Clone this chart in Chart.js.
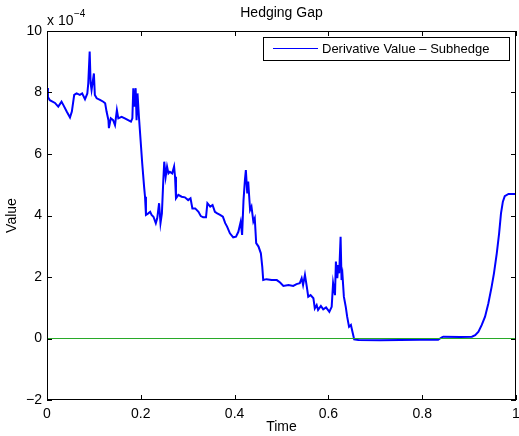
<!DOCTYPE html>
<html lang="en">
<head>
    <meta charset="UTF-8">
    <title>Hedging Gap</title>
    <script src="https://cdn.jsdelivr.net/npm/chart.js"></script>
    <style>
        body {
            margin: 0;
            background-color: white;
        }
        #gapChart {
            display: block;
        }
    </style>
</head>
<body>
    <canvas id="gapChart" width="519" height="436"></canvas>
    <script>
        // values, y in units of 1e-4
        const timePoints = [
            0.000, 0.002, 0.006, 0.017, 0.024, 0.031, 0.035, 0.042, 0.049, 0.053,
            0.058, 0.063, 0.070, 0.075, 0.081, 0.086, 0.088, 0.091, 0.093, 0.095,
            0.100, 0.102, 0.106, 0.113, 0.120, 0.124, 0.127, 0.131, 0.132, 0.136,
            0.141, 0.145, 0.149, 0.152, 0.159, 0.166, 0.173, 0.179, 0.182, 0.184,
            0.186, 0.189, 0.191, 0.193, 0.196, 0.200, 0.203, 0.207, 0.209, 0.211,
            0.216, 0.220, 0.223, 0.227, 0.232, 0.235, 0.239, 0.242, 0.245, 0.248,
            0.250, 0.253, 0.256, 0.259, 0.262, 0.267, 0.271, 0.273, 0.275, 0.280,
            0.287, 0.294, 0.301, 0.306, 0.310, 0.316, 0.323, 0.328, 0.333, 0.339,
            0.342, 0.348, 0.353, 0.358, 0.363, 0.369, 0.375, 0.380, 0.384, 0.390,
            0.397, 0.403, 0.408, 0.413, 0.416, 0.419, 0.422, 0.424, 0.427, 0.429,
            0.433, 0.436, 0.440, 0.443, 0.446, 0.451, 0.456, 0.459, 0.461, 0.468,
            0.479, 0.490, 0.497, 0.504, 0.515, 0.525, 0.532, 0.539, 0.543, 0.546,
            0.550, 0.554, 0.557, 0.562, 0.568, 0.571, 0.575, 0.578, 0.584, 0.589,
            0.595, 0.602, 0.607, 0.610, 0.614, 0.616, 0.619, 0.621, 0.623, 0.626,
            0.628, 0.630, 0.633, 0.637, 0.640, 0.644, 0.648, 0.652, 0.655, 0.664,
            0.710, 0.753, 0.795, 0.834, 0.842, 0.845, 0.881, 0.906, 0.913, 0.920,
            0.927, 0.934, 0.941, 0.948, 0.953, 0.959, 0.964, 0.968, 0.972, 0.976,
            0.984, 1.000
        ];
        const gapValues = [
            8.15, 7.85, 7.75, 7.66, 7.54, 7.70, 7.59, 7.38, 7.19, 7.38,
            7.92, 7.97, 7.92, 7.97, 7.78, 7.97, 8.30, 9.33, 8.30, 8.08,
            8.62, 7.92, 7.81, 7.76, 7.70, 7.65, 7.38, 7.10, 6.84, 7.16,
            7.10, 6.94, 7.43, 7.16, 7.21, 7.16, 7.10, 7.05, 7.16, 8.14,
            7.54, 8.14, 7.10, 7.97, 7.21, 6.35, 5.70, 4.94, 4.61, 4.02,
            4.07, 4.12, 4.02, 3.96, 3.75, 3.91, 4.40, 3.75, 4.07, 5.15,
            5.75, 5.26, 5.59, 5.37, 5.42, 5.37, 5.59, 5.26, 4.56, 4.67,
            4.61, 4.59, 4.50, 4.56, 4.23, 4.23, 4.12, 3.98, 3.94, 3.94,
            4.40, 4.29, 4.34, 4.12, 4.07, 4.02, 3.96, 3.75, 3.64, 3.42,
            3.29, 3.31, 3.47, 3.80, 3.37, 4.50, 5.15, 5.48, 4.72, 5.10,
            4.18, 4.29, 3.80, 3.91, 3.10, 2.99, 2.77, 2.33, 1.90, 1.93,
            1.90, 1.90, 1.82, 1.71, 1.74, 1.71, 1.77, 1.80, 1.96, 1.74,
            2.07, 1.68, 1.36, 1.41, 1.31, 0.98, 1.09, 0.93, 1.06, 0.95,
            1.01, 0.87, 1.03, 1.80, 1.41, 2.50, 1.96, 2.39, 2.12, 3.31,
            1.90, 2.07, 1.36, 1.03, 0.71, 0.38, 0.44, 0.17, -0.03, -0.05,
            -0.06, -0.05, -0.04, -0.04, 0.04, 0.06, 0.05, 0.06, 0.11, 0.22,
            0.44, 0.71, 1.14, 1.68, 2.12, 2.77, 3.42, 4.07, 4.45, 4.63,
            4.70, 4.70
        ];
        const zeroTimes = [0, 1];
        const zeroValues = [0, 0];

        const xTickValues = [0, 0.2, 0.4, 0.6, 0.8, 1];
        const xTickLabels = ['0', '0.2', '0.4', '0.6', '0.8', '1'];
        const yTickValues = [-2, 0, 2, 4, 6, 8, 10];
        const yTickLabels = ['\u22122', '0', '2', '4', '6', '8', '10'];

        const seriesName = 'Derivative Value \u2013 Subhedge';
        const fontFamily = 'Arial, "Liberation Sans", Helvetica, sans-serif';

        const gapPoints = timePoints.map((t, i) => ({ x: t, y: gapValues[i] }));
        const zeroPoints = zeroTimes.map((t, i) => ({ x: t, y: zeroValues[i] }));

        // matlab style box, inward ticks, exponent note, title and legend
        const matlabFrame = {
            id: 'matlabFrame',
            afterDraw(chart) {
                const ctx = chart.ctx;
                const area = chart.chartArea;
                const xs = chart.scales.x;
                const ys = chart.scales.y;
                ctx.save();
                ctx.strokeStyle = '#000';
                ctx.lineWidth = 1;
                ctx.strokeRect(area.left + 0.5, area.top + 0.5, area.right - area.left - 1, area.bottom - area.top - 1);

                ctx.beginPath();
                xTickValues.forEach(v => {
                    const px = Math.round(xs.getPixelForValue(v)) + 0.5;
                    ctx.moveTo(px, area.bottom);
                    ctx.lineTo(px, area.bottom - 5);
                    ctx.moveTo(px, area.top);
                    ctx.lineTo(px, area.top + 5);
                });
                yTickValues.forEach(v => {
                    const py = Math.round(ys.getPixelForValue(v)) + 0.5;
                    ctx.moveTo(area.left, py);
                    ctx.lineTo(area.left + 5, py);
                    ctx.moveTo(area.right, py);
                    ctx.lineTo(area.right - 5, py);
                });
                ctx.stroke();

                ctx.fillStyle = '#000';
                ctx.textBaseline = 'alphabetic';
                ctx.textAlign = 'left';
                ctx.font = '14px ' + fontFamily;
                ctx.fillText('x 10', area.left, 25);
                ctx.font = '10px ' + fontFamily;
                ctx.fillText('\u22124', area.left + 27, 17);

                ctx.textAlign = 'center';
                ctx.textBaseline = 'middle';
                ctx.font = '14px ' + fontFamily;
                ctx.fillText('Hedging Gap', (area.left + area.right) / 2, 13);

                // legend box
                const lx = 263, ly = 37, lw = 246, lh = 23;
                ctx.fillStyle = '#fff';
                ctx.fillRect(lx, ly, lw, lh);
                ctx.strokeRect(lx + 0.5, ly + 0.5, lw, lh);
                ctx.strokeStyle = '#0000ff';
                ctx.beginPath();
                ctx.moveTo(273, 48.5);
                ctx.lineTo(318, 48.5);
                ctx.stroke();
                ctx.fillStyle = '#000';
                ctx.textAlign = 'left';
                ctx.font = '13px ' + fontFamily;
                ctx.fillText(seriesName, 322, 49);
                ctx.restore();
            }
        };

        const ctx = document.getElementById('gapChart').getContext('2d');
        const gapChart = new Chart(ctx, {
            type: 'line',
            data: {
                datasets: [{
                    label: 'Zero',
                    data: zeroPoints,
                    borderColor: 'rgb(40,170,40)',
                    borderWidth: 1,
                    pointRadius: 0,
                    order: 0
                }, {
                    label: seriesName,
                    data: gapPoints,
                    borderColor: '#0000ff',
                    borderWidth: 2,
                    pointRadius: 0,
                    tension: 0,
                    order: 1
                }]
            },
            options: {
                responsive: false,
                animation: false,
                layout: {
                    padding: { top: 31, right: 3, left: 0, bottom: 0 }
                },
                plugins: {
                    legend: { display: false },
                    title: { display: false },
                    tooltip: { enabled: false }
                },
                scales: {
                    x: {
                        type: 'linear',
                        min: 0,
                        max: 1,
                        grid: { display: false, drawTicks: false },
                        border: { display: false },
                        ticks: {
                            stepSize: 0.2,
                            padding: 6,
                            color: '#000',
                            font: { family: fontFamily, size: 14 },
                            maxRotation: 0,
                            callback: (v) => {
                                const i = xTickValues.findIndex(t => Math.abs(t - v) < 1e-6);
                                return i >= 0 ? xTickLabels[i] : '';
                            }
                        },
                        title: {
                            display: true,
                            text: 'Time',
                            color: '#000',
                            font: { family: fontFamily, size: 14 },
                            padding: { top: 0, bottom: 0 }
                        },
                        afterFit(scale) {
                            scale.height = 36;
                            scale.paddingLeft = 0;
                            scale.paddingRight = 0;
                        }
                    },
                    y: {
                        min: -2,
                        max: 10,
                        grid: { display: false, drawTicks: false },
                        border: { display: false },
                        ticks: {
                            stepSize: 2,
                            padding: 5,
                            color: '#000',
                            font: { family: fontFamily, size: 14 },
                            callback: (v) => {
                                const i = yTickValues.indexOf(v);
                                return i >= 0 ? yTickLabels[i] : '';
                            }
                        },
                        title: {
                            display: true,
                            text: 'Value',
                            color: '#000',
                            font: { family: fontFamily, size: 14 },
                            padding: { top: 4, bottom: 0 }
                        },
                        afterFit(scale) {
                            scale.width = 47;
                            scale.paddingTop = 0;
                            scale.paddingBottom = 0;
                        }
                    }
                }
            },
            plugins: [matlabFrame]
        });
    </script>
</body>
</html>
